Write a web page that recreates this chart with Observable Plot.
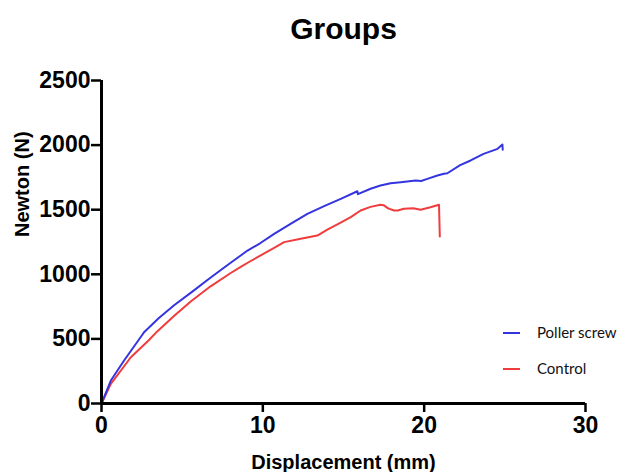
<!DOCTYPE html>
<html>
<head>
<meta charset="utf-8">
<script src="https://cdn.jsdelivr.net/npm/d3@7"></script>
<script src="https://cdn.jsdelivr.net/npm/@observablehq/plot@0.6"></script>
<style>
  html, body { margin: 0; padding: 0; background: #fff; }
  #wrap { position: relative; width: 631px; height: 472px; }
  .leg { position: absolute; font-family: Lato, "Open Sans", sans-serif; font-size: 15px; color: #111; }
  .leg span.sw { position: absolute; left: 0; top: 9px; width: 17px; height: 2px; }
  .leg span.tx { position: absolute; left: 34px; top: 0; white-space: nowrap; }
</style>
</head>
<body>
<div id="wrap"></div>
<script>
const title = "Groups";
const xLabel = "Displacement (mm)";
const yLabel = "Newton (N)";
const seriesNames = ["Poller screw", "Control"];
const seriesColors = ["#3434e0", "#f03c3c"];
const xTicks = [0, 10, 20, 30];
const yTicks = [0, 500, 1000, 1500, 2000, 2500];

const pollerX = [0, 0.58, 1.40, 2.52, 2.64, 3.54, 4.50, 5.67, 6.77, 7.90, 8.63, 9.05, 9.83, 10.70, 11.77, 12.76, 13.80, 14.83, 15.86, 15.89, 16.68, 17.29, 17.92, 18.55, 19.47, 19.81, 20.20, 20.82, 21.23, 21.44, 22.23, 22.88, 23.68, 24.55, 24.85, 24.87];
const pollerY = [0, 178, 333, 530, 552, 660, 760, 870, 975, 1080, 1146, 1184, 1240, 1313, 1394, 1468, 1528, 1584, 1643, 1620, 1662, 1687, 1705, 1713, 1726, 1722, 1739, 1765, 1778, 1782, 1845, 1881, 1932, 1971, 2005, 1964];

const controlX = [0, 0.58, 1.82, 2.93, 3.47, 4.51, 5.53, 6.74, 8.01, 8.63, 9.25, 10.70, 11.32, 12.35, 13.38, 14.00, 14.68, 15.45, 16.06, 16.68, 17.29, 17.48, 17.77, 18.13, 18.36, 18.74, 19.32, 19.78, 20.39, 20.92, 20.97];
const controlY = [0, 152, 358, 490, 560, 680, 790, 905, 1010, 1058, 1103, 1205, 1249, 1275, 1300, 1345, 1390, 1442, 1494, 1522, 1538, 1535, 1510, 1494, 1494, 1507, 1512, 1499, 1519, 1538, 1293];

const poller = pollerX.map((x, i) => ({x, y: pollerY[i], s: seriesNames[0]}));
const control = controlX.map((x, i) => ({x, y: controlY[i], s: seriesNames[1]}));

const font = "'Liberation Sans', Arial, Helvetica, sans-serif";

const chart = Plot.plot({
  width: 631,
  height: 472,
  marginLeft: 101,
  marginRight: 46,
  marginTop: 80,
  marginBottom: 69,
  style: { fontFamily: font, background: "white", color: "#000" },
  x: { domain: [0, 30] },
  y: { domain: [0, 2500] },
  marks: [
    Plot.lineY(control, { x: "x", y: "y", stroke: seriesColors[1], strokeWidth: 2, curve: "linear" }),
    Plot.lineY(poller, { x: "x", y: "y", stroke: seriesColors[0], strokeWidth: 2, curve: "linear" }),
    Plot.ruleX([0], { stroke: "#000", strokeWidth: 3 }),
    Plot.ruleY([0], { stroke: "#000", strokeWidth: 3 }),
    Plot.axisX({ ticks: xTicks, tickSize: 9, tickPadding: 4, strokeWidth: 2.5, fontSize: 23, fontWeight: "bold", label: null, tickFormat: d => String(d) }),
    Plot.axisY({ ticks: yTicks, tickSize: 10, tickPadding: 1, strokeWidth: 2.5, fontSize: 23, fontWeight: "bold", label: null, tickFormat: d => String(d) }),
    Plot.text([title], { frameAnchor: "top", dx: 0, dy: -42, lineAnchor: "bottom", fontSize: 30, fontWeight: "bold", text: d => d }),
    Plot.text([xLabel], { frameAnchor: "bottom", dy: 65, lineAnchor: "bottom", fontSize: 20, fontWeight: "bold", text: d => d }),
    Plot.text([yLabel], { frameAnchor: "left", dx: -79, dy: -5, rotate: -90, fontSize: 20, fontWeight: "bold", text: d => d })
  ]
});

const wrap = document.getElementById("wrap");
wrap.appendChild(chart);

const legendTops = [323, 359];
seriesNames.forEach((name, i) => {
  const d = document.createElement("div");
  d.className = "leg";
  d.style.left = "503px";
  d.style.top = legendTops[i] + "px";
  d.innerHTML = `<span class="sw" style="background:${seriesColors[i]}"></span><span class="tx">${name}</span>`;
  wrap.appendChild(d);
});
</script>
</body>
</html>
